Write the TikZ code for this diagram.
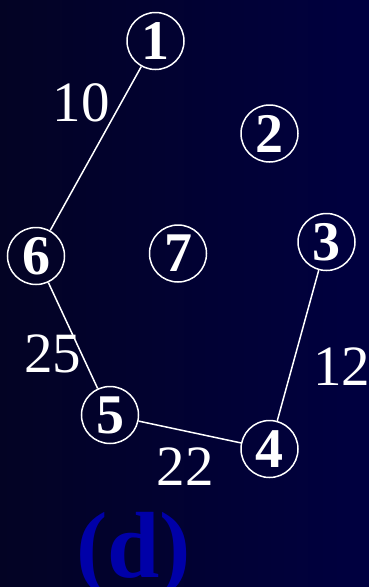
\documentclass[tikz,border=0pt]{standalone}
\usepackage{fontspec}
\setmainfont{Liberation Serif}
\usetikzlibrary{
    calc,
    shapes.geometric
}
\definecolor{bgleft}{RGB}{3,3,36}
\definecolor{bgright}{RGB}{0,0,64}
\definecolor{capblue}{RGB}{0,0,168}
\tikzset{
  vertex/.style={
    circle,
    draw=white,
    line width=1.5pt,
    minimum size=57pt,
    inner sep=0pt,
    text=white,
    font=\fontsize{56}{56}\selectfont\bfseries
  },
  wt/.style={
    text=white,
    inner sep=0pt,
    font=\fontsize{57}{57}\selectfont
  },
  edge/.style={
    white,
    line width=1.5pt
  }
}

\begin{document}
\begin{tikzpicture}[x=1pt,y=-1pt]

    % 背景
    \clip (0,0) rectangle (369,587);
    \useasboundingbox (0,0) rectangle (369,587);
    \shade[left color=bgleft,right color=bgright] (0,0) rectangle (369,587);

    % 頂点
    \node[vertex] (n1) at (155.5,41) {1};
    \node[vertex] (n2) at (269.5,133.5) {2};
    \node[vertex] (n3) at (326.5,242) {3};
    \node[vertex] (n4) at (269.5,449) {4};
    \node[vertex] (n5) at (110,415) {5};
    \node[vertex] (n6) at (36,256) {6};
    \node[vertex] (n7) at (178,253.5) {7};

    % 辺
    \draw[edge] (n1) -- (n6);
    \draw[edge] (n6) -- (n5);
    \draw[edge] (n5) -- (n4);
    \draw[edge] (n4) -- (n3);

    % 重み
    \node[wt] (w16) at (81,102.5) {10};
    \node[wt] (w65) at (52.5,354) {25};
    \node[wt] (w54) at (185,467) {22};
    \node[wt] (w43) at (341.5,366.5) {12};

    % 見出し
    \node[anchor=base,inner sep=0pt,text=capblue,
          font=\fontsize{94}{94}\selectfont\bfseries] (cap) at (133.5,577) {(d)};

\end{tikzpicture}
\end{document}
